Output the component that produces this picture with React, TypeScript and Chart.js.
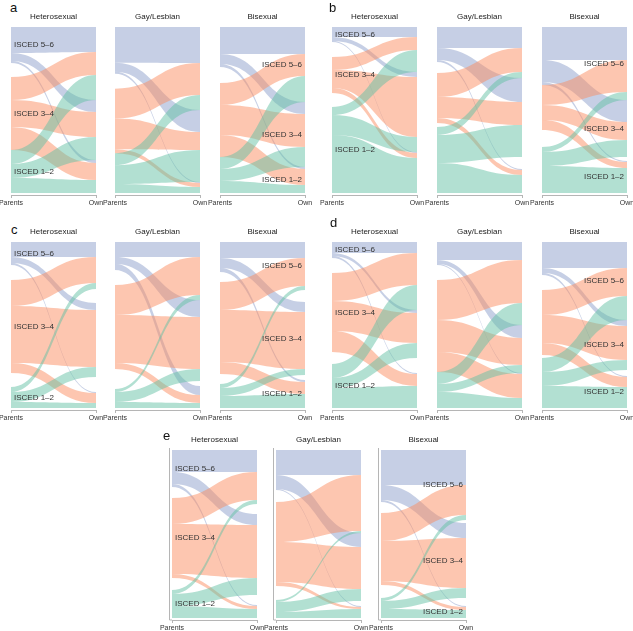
import React, { useEffect, useRef } from "react";
import { Chart, registerables } from "chart.js";
Chart.register(...registerables);

// ---------------- data ----------------
const panelLetters = ["a", "b", "c", "d", "e"];
const groups = ["Heterosexual", "Gay/Lesbian", "Bisexual"];
const levels = ["ISCED 5–6", "ISCED 3–4", "ISCED 1–2"];
const axisLabels = ["Parents", "Own"];
const levelColors = ["rgba(141,160,203,0.5)", "rgba(252,141,98,0.5)", "rgba(102,194,165,0.5)"];

// Left (Parents) ribbon widths: [group][parent level][own level] (relative shares)
const aLeft = [
  [[26, 8, 2], [23, 27, 23], [14, 14, 15]],
  [[36, 9, 2], [30, 31, 4], [12, 19, 9]],
  [[27, 10, 3], [22, 30, 22], [12, 12, 12]],
];
// empty share between strata on the left: [after 5–6, after 3–4]
const aLeftGaps = [[14, 0], [15, 0], [16, 0]];
// Right (Own) ribbon widths: [group][own level][parent level]
const aRight = [
  [[25, 23, 25], [12, 25, 23], [3, 17, 13]],
  [[36, 32, 15], [22, 18, 32], [1, 4, 6]],
  [[27, 22, 26], [12, 33, 20], [2, 16, 8]],
];
const aRightGaps = [[0, 0], [0, 0], [0, 0]];

const bLeft = [
  [[10, 4, 1], [13, 18, 5], [8, 20, 58]],
  [[21, 12, 2], [24, 21, 5], [8, 28, 30]],
  [[33, 22, 3], [20, 15, 10], [5, 14, 27]],
];
const bLeftGaps = [[15, 14], [11, 4], [0, 17]];
const bRight = [
  [[10, 13, 22], [5, 60, 15], [1, 5, 35]],
  [[21, 24, 6], [24, 23, 32], [1, 5, 18]],
  [[33, 32, 8], [22, 18, 17], [1, 6, 25]],
];
const bRightGaps = [[0, 0], [0, 12], [0, 4]];

const cLeft = [
  [[15, 6, 2], [26, 57, 10], [5, 10, 6]],
  [[15, 7, 6], [30, 48, 6], [3, 10, 6]],
  [[16, 10, 4], [28, 52, 12], [4, 8, 12]],
];
const cLeftGaps = [[15, 14], [15, 20], [10, 10]];
const cRight = [
  [[15, 26, 6], [7, 57, 10], [1, 10, 5]],
  [[15, 38, 5], [17, 52, 12], [9, 8, 5]],
  [[16, 28, 4], [10, 57, 6], [2, 12, 14]],
];
const cRightGaps = [[14, 15], [0, 5], [12, 5]];

const dLeft = [
  [[11, 3, 2], [28, 30, 21], [14, 10, 20]],
  [[18, 4, 1], [40, 32, 20], [12, 8, 16]],
  [[26, 5, 2], [25, 28, 12], [14, 14, 22]],
];
const dLeftGaps = [[15, 12], [15, 0], [15, 3]];
const dRight = [
  [[11, 32, 25], [3, 30, 15], [1, 12, 22]],
  [[18, 43, 22], [13, 27, 8], [1, 24, 10]],
  [[26, 28, 24], [6, 34, 10], [1, 10, 21]],
];
const dRightGaps = [[0, 15], [0, 0], [0, 6]];

const eLeft = [
  [[22, 12, 3], [26, 50, 4], [4, 12, 12]],
  [[25, 14, 1], [40, 40, 4], [2, 10, 6]],
  [[35, 15, 2], [28, 40, 4], [3, 8, 9]],
];
const eLeftGaps = [[11, 12], [12, 14], [11, 13]];
const eRight = [
  [[22, 28, 4], [11, 53, 17], [1, 3, 9]],
  [[25, 56, 2], [14, 42, 12], [1, 2, 9]],
  [[35, 30, 5], [15, 50, 10], [1, 3, 8]],
];
const eRightGaps = [[10, 10], [0, 5], [3, 8]];

const panelData = [
  { L: aLeft, GL: aLeftGaps, R: aRight, GR: aRightGaps },
  { L: bLeft, GL: bLeftGaps, R: bRight, GR: bRightGaps },
  { L: cLeft, GL: cLeftGaps, R: cRight, GR: cRightGaps },
  { L: dLeft, GL: dLeftGaps, R: dRight, GR: dRightGaps },
  { L: eLeft, GL: eLeftGaps, R: eRight, GR: eRightGaps },
];

// ---------------- layout ----------------
const FONT = "'Liberation Sans', Arial, Helvetica, sans-serif";
const PADX = 22;
const TITLE_H = 20;
const XAXIS_H = 16;
const AREA_W = 85;
const panelLayout = [
  { xs: [11, 115, 220], top: 27, bottom: 195, letter: [10, 0], yLine: false },
  { xs: [332, 437, 542], top: 27, bottom: 195, letter: [329, 0], yLine: false },
  { xs: [11, 115, 220], top: 242, bottom: 410, letter: [11, 222], yLine: false },
  { xs: [332, 437, 542], top: 242, bottom: 410, letter: [330, 215], yLine: false },
  { xs: [172, 276, 381], top: 450, bottom: 620, letter: [163, 428], yLine: true },
];

function stack(widths: number[][], gaps: number[]) {
  // returns [outer][inner] -> [start, end] in percent (0 = top)
  let total = gaps.reduce((s, v) => s + v, 0);
  widths.forEach((row) => row.forEach((v) => (total += v)));
  const k = 100 / total;
  const out: number[][][] = [];
  let cur = 0;
  widths.forEach((row, o) => {
    if (o > 0) cur += gaps[o - 1] * k;
    out.push(
      row.map((v) => {
        const s = cur;
        cur += v * k;
        return [s, cur];
      })
    );
  });
  return out;
}

function SubPanel(props: {
  gi: number;
  area: { left: number; top: number; bottom: number };
  L: number[][];
  GL: number[];
  R: number[][];
  GR: number[];
  yLine: boolean;
}) {
  const ref = useRef<HTMLCanvasElement | null>(null);
  const { gi, area, L, GL, R, GR, yLine } = props;
  const areaH = area.bottom - area.top;
  const cw = AREA_W + 2 * PADX;
  const ch = TITLE_H + areaH + XAXIS_H;

  useEffect(() => {
    if (!ref.current) return;
    const leftPos = stack(L, GL); // [parent][own]
    const rightPos = stack(R, GR); // [own][parent]
    const ribbonPlugin = {
      id: "ribbons",
      beforeDatasetsDraw(chart: any) {
        const { ctx, chartArea } = chart;
        const xs = chart.scales.x;
        const ys = chart.scales.y;
        const xL = xs.getPixelForValue(0);
        const xR = xs.getPixelForValue(1);
        const xm = (xL + xR) / 2;
        ctx.save();
        if (yLine) {
          ctx.strokeStyle = "#b5b5b5";
          ctx.lineWidth = 1;
          ctx.beginPath();
          ctx.moveTo(Math.round(chartArea.left) - 2.5, chartArea.top - 2);
          ctx.lineTo(Math.round(chartArea.left) - 2.5, chartArea.bottom);
          ctx.lineTo(chartArea.left, chartArea.bottom);
          ctx.stroke();
        }
        for (let i = 0; i < 3; i++) {
          for (let j = 0; j < 3; j++) {
            const [l0, l1] = leftPos[i][j];
            const [r0, r1] = rightPos[j][i];
            if (l1 - l0 <= 0 && r1 - r0 <= 0) continue;
            const yl0 = ys.getPixelForValue(l0);
            const yl1 = ys.getPixelForValue(l1);
            const yr0 = ys.getPixelForValue(r0);
            const yr1 = ys.getPixelForValue(r1);
            ctx.beginPath();
            ctx.moveTo(xL, yl0);
            ctx.bezierCurveTo(xm, yl0, xm, yr0, xR, yr0);
            ctx.lineTo(xR, yr1);
            ctx.bezierCurveTo(xm, yr1, xm, yl1, xL, yl1);
            ctx.closePath();
            ctx.fillStyle = levelColors[i];
            ctx.fill();
          }
        }
        ctx.font = `8px ${FONT}`;
        ctx.fillStyle = "#333";
        ctx.textBaseline = "middle";
        if (gi === 0) {
          ctx.textAlign = "left";
          for (let i = 0; i < 3; i++) {
            const c = (leftPos[i][0][0] + leftPos[i][2][1]) / 2;
            ctx.fillText(levels[i], xL + 3, ys.getPixelForValue(c));
          }
        }
        if (gi === 2) {
          ctx.textAlign = "right";
          for (let j = 0; j < 3; j++) {
            const c = (rightPos[j][0][0] + rightPos[j][2][1]) / 2;
            ctx.fillText(levels[j], xR - 3, ys.getPixelForValue(c));
          }
        }
        ctx.restore();
      },
    };
    const chart = new Chart(ref.current, {
      type: "scatter",
      data: { datasets: [] },
      options: {
        responsive: false,
        animation: false,
        devicePixelRatio: 1,
        layout: { padding: { left: PADX, right: PADX, top: 0, bottom: 0 } },
        plugins: {
          legend: { display: false },
          tooltip: { enabled: false },
          title: {
            display: true,
            text: groups[gi],
            color: "#222",
            font: { size: 8, family: FONT, weight: "normal" },
            padding: { top: 5.2, bottom: 5.2 },
          },
        },
        scales: {
          x: {
            type: "linear",
            min: 0,
            max: 1,
            afterFit: (s: any) => {
              s.height = XAXIS_H;
            },
            grid: {
              display: true,
              drawOnChartArea: false,
              drawTicks: true,
              tickLength: 3,
              color: "#b5b5b5",
            },
            border: { display: true, color: "#b5b5b5" },
            ticks: {
              stepSize: 1,
              autoSkip: false,
              maxRotation: 0,
              padding: 1,
              color: "#333",
              font: { size: 7, family: FONT },
              callback: (v: any) => (v === 0 ? axisLabels[0] : v === 1 ? axisLabels[1] : ""),
            },
          },
          y: {
            type: "linear",
            display: false,
            reverse: true,
            min: 0,
            max: (100 * areaH) / (areaH - 2),
          },
        },
      } as any,
      plugins: [ribbonPlugin],
    });
    return () => chart.destroy();
  }, []);

  return (
    <canvas
      ref={ref}
      width={cw}
      height={ch}
      style={{
        position: "absolute",
        left: area.left - PADX,
        top: area.top - TITLE_H,
        width: cw,
        height: ch,
      }}
    />
  );
}

export default function App() {
  return (
    <div
      style={{
        position: "absolute",
        left: 0,
        top: 0,
        width: 633,
        height: 631,
        background: "#fff",
        overflow: "hidden",
      }}
    >
      {panelLayout.map((p, pi) => (
        <React.Fragment key={pi}>
          <div
            style={{
              position: "absolute",
              left: p.letter[0],
              top: p.letter[1],
              fontFamily: FONT,
              fontSize: 13,
              lineHeight: "15px",
              color: "#111",
            }}
          >
            {panelLetters[pi]}
          </div>
          {groups.map((g, gi) => (
            <SubPanel
              key={g}
              gi={gi}
              area={{ left: p.xs[gi], top: p.top, bottom: p.bottom }}
              L={panelData[pi].L[gi]}
              GL={panelData[pi].GL[gi]}
              R={panelData[pi].R[gi]}
              GR={panelData[pi].GR[gi]}
              yLine={p.yLine}
            />
          ))}
        </React.Fragment>
      ))}
    </div>
  );
}
